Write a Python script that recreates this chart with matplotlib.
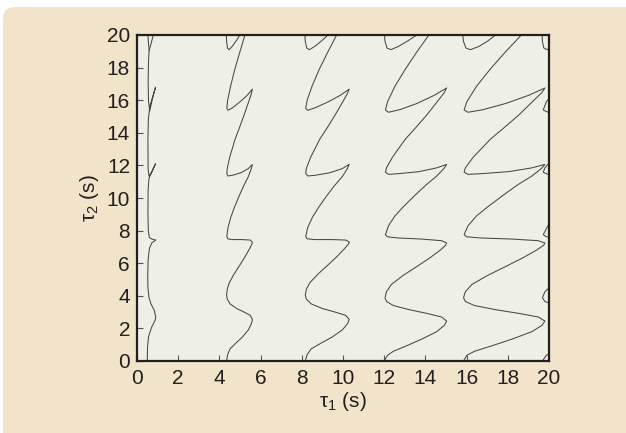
import matplotlib
matplotlib.use("Agg")
import matplotlib.pyplot as plt
from matplotlib.patches import FancyBboxPatch

plt.rcParams['font.family'] = ['Liberation Sans', 'DejaVu Sans']

# stability boundary curves: tau1 (x) vs tau2 (y)
tau1_c1 = [0.50, 0.51, 0.56, 0.72, 0.88, 0.91, 0.84, 0.68, 0.58, 0.53, 0.52, 0.54, 0.60,
           0.72, 0.91, 0.72, 0.60, 0.55, 0.53, 0.54, 0.58, 0.75, 0.90, 0.72, 0.58, 0.54,
           0.53, 0.55, 0.62, 0.76, 0.90, 0.75, 0.62, 0.56, 0.54, 0.56, 0.59, 0.70, 0.80]
tau2_c1 = [0.00, 0.80, 1.50, 2.10, 2.50, 2.70, 3.10, 3.50, 3.90, 4.50, 5.30, 6.20, 6.90,
           7.25, 7.42, 7.48, 7.58, 8.00, 9.20, 10.50, 11.20, 11.70, 12.10, 11.60, 11.35, 11.80,
           13.50, 14.80, 15.60, 16.20, 16.80, 16.10, 15.35, 15.90, 17.20, 18.40, 19.05, 19.55, 20.05]
tau1_c1_top = [0.59, 0.55, 0.53]
tau2_c1_top = [19.05, 19.60, 20.05]

tau2_lo = [0.00, 0.40, 0.75, 1.10, 1.45, 1.90, 2.30, 2.55, 2.80, 3.00, 3.22, 3.50, 3.80, 4.05,
           4.40, 4.80, 5.35, 5.90, 6.45, 6.90, 7.18, 7.30, 7.42, 7.45, 7.45, 7.50, 7.65, 8.20,
           8.80, 9.40, 10.10, 10.75, 11.30, 11.80, 12.06, 11.80, 11.55, 11.40, 11.35, 11.50,
           11.80, 12.50, 13.60, 14.40, 15.10, 15.90, 16.40, 16.68, 16.30, 15.90, 15.55, 15.38,
           15.50, 16.00, 16.90, 17.90, 18.90, 20.00, 20.20]
tau2_hi = [0.00, 0.35, 0.60, 0.95, 1.35, 1.80, 2.20, 2.45, 2.70, 2.92, 3.15, 3.40, 3.65, 3.88,
           4.25, 4.70, 5.25, 5.80, 6.35, 6.80, 7.10, 7.24, 7.38, 7.48, 7.55, 7.62, 7.75, 8.30,
           8.90, 9.45, 10.15, 10.80, 11.35, 11.82, 12.06, 11.85, 11.62, 11.50, 11.45, 11.58,
           11.85, 12.50, 13.60, 14.40, 15.10, 15.95, 16.45, 16.75, 16.30, 15.80, 15.42, 15.26,
           15.40, 15.90, 16.85, 17.85, 18.90, 20.00, 20.20]

tau1_c2 = [4.35, 4.40, 4.52, 4.80, 5.10, 5.40, 5.56, 5.60, 5.50, 5.20, 4.84, 4.52, 4.38, 4.35,
           4.38, 4.48, 4.72, 5.00, 5.27, 5.47, 5.58, 5.60, 5.50, 5.10, 4.60, 4.40, 4.36, 4.42,
           4.55, 4.72, 4.95, 5.18, 5.40, 5.55, 5.60, 5.40, 5.05, 4.65, 4.42, 4.36, 4.38, 4.50,
           4.76, 5.00, 5.20, 5.42, 5.55, 5.60, 5.35, 5.00, 4.65, 4.42, 4.36, 4.40, 4.55, 4.75,
           4.98, 5.24, 5.28]
tau1_c3 = [8.17, 8.26, 8.46, 8.94, 9.45, 9.96, 10.23, 10.30, 10.13, 9.62, 9.00, 8.46, 8.22, 8.17,
           8.22, 8.39, 8.80, 9.28, 9.74, 10.08, 10.27, 10.30, 10.13, 9.45, 8.60, 8.26, 8.19, 8.29,
           8.51, 8.80, 9.19, 9.58, 9.96, 10.21, 10.30, 9.96, 9.36, 8.68, 8.29, 8.19, 8.22, 8.43,
           8.87, 9.28, 9.62, 9.99, 10.21, 10.30, 9.87, 9.28, 8.68, 8.29, 8.19, 8.26, 8.51, 8.85,
           9.24, 9.69, 9.75]
tau1_c4 = [12.00, 12.16, 12.45, 13.12, 13.83, 14.55, 14.93, 15.03, 14.79, 14.07, 13.21, 12.45,
           12.11, 12.04, 12.11, 12.35, 12.92, 13.59, 14.24, 14.72, 14.98, 15.03, 14.79, 13.83,
           12.64, 12.16, 12.06, 12.21, 12.52, 12.92, 13.48, 14.03, 14.55, 14.91, 15.03, 14.55,
           13.71, 12.76, 12.21, 12.06, 12.11, 12.40, 13.02, 13.59, 14.07, 14.60, 14.91, 15.03,
           14.43, 13.59, 12.76, 12.21, 12.06, 12.16, 12.52, 13.00, 13.55, 14.17, 14.26]
tau1_c5 = [15.85, 16.01, 16.39, 17.27, 18.22, 19.17, 19.67, 19.80, 19.48, 18.54, 17.40, 16.39,
           15.94, 15.85, 15.94, 16.26, 17.02, 17.90, 18.76, 19.39, 19.74, 19.80, 19.48, 18.22,
           16.64, 16.01, 15.88, 16.07, 16.48, 17.02, 17.75, 18.47, 19.17, 19.64, 19.80, 19.17,
           18.06, 16.80, 16.07, 15.88, 15.94, 16.32, 17.15, 17.90, 18.54, 19.23, 19.64, 19.80,
           19.01, 17.90, 16.80, 16.07, 15.88, 16.01, 16.48, 17.11, 17.84, 18.66, 18.79]

# small U-shaped pieces at the top edge
tau2_top = [20.20, 19.60, 19.20, 19.10, 19.30, 19.65, 20.05, 20.20]
tau1_top_c2 = [4.33, 4.35, 4.39, 4.47, 4.62, 4.82, 5.02, 5.05]
tau1_top_c3 = [8.14, 8.17, 8.24, 8.37, 8.63, 8.97, 9.31, 9.36]
tau1_top_c4 = [12.00, 12.04, 12.14, 12.33, 12.69, 13.16, 13.64, 13.71]
tau1_top_c5 = [15.79, 15.85, 15.97, 16.18, 16.60, 17.05, 17.45, 17.55]

# bits of the next curve poking in at the right edge
edge_tau1 = [[19.68, 19.87, 20.33],
             [20.33, 19.80, 19.68, 19.80, 20.18],
             [20.64, 19.87, 19.72, 19.95, 20.45],
             [20.83, 19.95, 19.72, 19.80, 20.26],
             [20.83, 19.95, 19.72, 19.87, 20.45],
             [19.66, 19.68, 19.75, 19.90, 20.20]]
edge_tau2 = [[0.00, 0.35, 0.60],
             [3.40, 3.65, 3.88, 4.25, 4.70],
             [7.55, 7.62, 7.75, 8.30, 8.90],
             [11.50, 11.45, 11.58, 11.85, 12.50],
             [15.42, 15.26, 15.40, 15.90, 16.85],
             [20.20, 19.60, 19.20, 19.10, 19.30]]

ticks = list(range(0, 21, 2))

fig = plt.figure(figsize=(6.26, 4.33), dpi=100)
fig.patch.set_facecolor('white')
panel = FancyBboxPatch((0.03, -0.3), 6.5, 4.26 + 0.3, boxstyle="round,pad=0,rounding_size=0.12",
                       transform=fig.dpi_scale_trans, facecolor='#f1e4cb', edgecolor='none',
                       zorder=-10)
fig.patches.append(panel)

ax = fig.add_axes([137 / 626, 72 / 433, 412 / 626, 326 / 433])
ax.set_zorder(5)
ax.set_facecolor('#eef0e6')

lc = '#474747'
lw = 0.75
ax.plot(tau1_c1, tau2_c1, color=lc, lw=lw)
ax.plot(tau1_c1_top, tau2_c1_top, color=lc, lw=lw)
ax.plot(tau1_c2, tau2_lo, color=lc, lw=lw)
ax.plot(tau1_c3, tau2_lo, color=lc, lw=lw)
ax.plot(tau1_c4, tau2_hi, color=lc, lw=lw)
ax.plot(tau1_c5, tau2_hi, color=lc, lw=lw)
for xs in [tau1_top_c2, tau1_top_c3, tau1_top_c4, tau1_top_c5]:
    ax.plot(xs, tau2_top, color=lc, lw=lw)
for xs, ys in zip(edge_tau1, edge_tau2):
    ax.plot(xs, ys, color=lc, lw=lw)

ax.set_xlim(0, 20)
ax.set_ylim(0, 20)
ax.set_xticks(ticks)
ax.set_yticks(ticks)
ax.tick_params(direction='in', length=4, width=0.8, color='#555555', labelsize=15,
               labelcolor='#231f20')
ax.tick_params(axis='x', pad=6)
ax.tick_params(axis='y', pad=5)
for s in ax.spines.values():
    s.set_linewidth(1.6)
    s.set_color('#231f20')

ax.set_xlabel(r'$\mathregular{\tau_1}$ (s)', fontsize=15, color='#231f20', labelpad=1)
ax.set_ylabel(r'$\mathregular{\tau_2}$ (s)', fontsize=15, color='#231f20', labelpad=4)

fig.savefig('out.png', dpi=100, facecolor=fig.get_facecolor())
